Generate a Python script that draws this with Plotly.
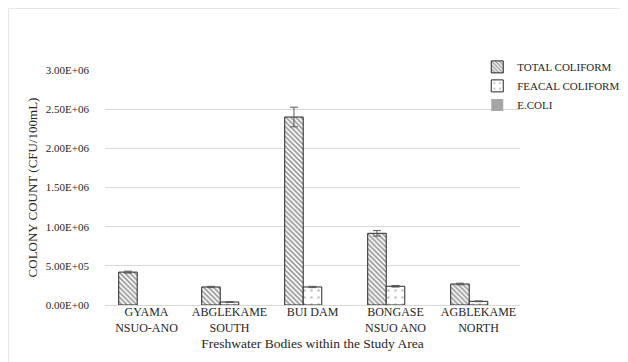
import plotly.graph_objects as go

categories = ["GYAMA<br>NSUO-ANO", "ABGLEKAME<br>SOUTH", "BUI DAM", "BONGASE<br>NSUO ANO", "AGBLEKAME<br>NORTH"]
total_coliform = [420000, 230000, 2400000, 915000, 268000]
total_err = [12000, 8000, 125000, 35000, 10000]
feacal_coliform = [None, 38000, 230000, 239000, 47000]
feacal_err = [None, 5000, 8000, 10000, 5000]
ecoli = [None, None, None, None, None]
y_ticks = [0, 500000, 1000000, 1500000, 2000000, 2500000, 3000000]
y_ticklabels = ["0.00E+00", "5.00E+05", "1.00E+06", "1.50E+06", "2.00E+06", "2.50E+06", "3.00E+06"]

W, H = 628, 362
ML, MR, MT, MB = 97, 116, 62, 65
FONT = "Liberation Serif, Times New Roman, DejaVu Serif, serif"
TXT = "#262626"

fig = go.Figure()
fig.add_trace(go.Bar(
    name="TOTAL COLIFORM", x=categories, y=total_coliform,
    marker=dict(color="white", line=dict(color="#262626", width=1),
                pattern=dict(shape="\\", fgcolor="#333333", bgcolor="white", size=3.5, solidity=0.5)),
    error_y=dict(type="data", array=total_err, color="#595959", thickness=1, width=4),
))
fig.add_trace(go.Bar(
    name="FEACAL COLIFORM", x=categories, y=feacal_coliform,
    marker=dict(color="white", line=dict(color="#262626", width=1),
                pattern=dict(shape=".", fgcolor="#8c8c8c", bgcolor="white", size=7, solidity=0.12)),
    error_y=dict(type="data", array=feacal_err, color="#595959", thickness=1, width=4),
))
fig.add_trace(go.Bar(
    name="E.COLI", x=categories, y=ecoli,
    marker=dict(color="#a6a6a6", line=dict(color="#a6a6a6", width=0)),
))

pw = W - ML - MR
ph = H - MT - MB
fig.add_shape(type="rect", xref="paper", yref="paper",
              x0=(0.5 - ML) / pw, x1=(W - 0.5 - ML) / pw,
              y0=-(H - 0.5 - MT - ph) / ph, y1=(ph + MT - 0.5) / ph,
              line=dict(color="#e6e6e6", width=1), fillcolor="rgba(0,0,0,0)", layer="below")

fig.update_layout(
    width=W, height=H,
    margin=dict(l=ML, r=MR, t=MT, b=MB, pad=0, autoexpand=False),
    paper_bgcolor="white", plot_bgcolor="white",
    barmode="group", bargap=0.33, bargroupgap=0,
    font=dict(family=FONT, size=11, color=TXT),
    showlegend=True,
    legend=dict(x=0.897, y=1.075, xanchor="left", yanchor="top",
                font=dict(family=FONT, size=11, color=TXT),
                itemwidth=30, tracegroupgap=0, bgcolor="rgba(0,0,0,0)"),
    xaxis=dict(title=dict(text="Freshwater Bodies within the Study Area", font=dict(family=FONT, size=13.5), standoff=4),
               tickfont=dict(family=FONT, size=12), showline=False, showgrid=False, ticks="",
               ticklabelstandoff=-2, automargin=False),
    yaxis=dict(range=[0, 3000000], tickvals=y_ticks, ticktext=y_ticklabels,
               tickfont=dict(family=FONT, size=11), showgrid=True, gridcolor="#d9d9d9", gridwidth=1,
               zeroline=True, zerolinecolor="#d9d9d9", zerolinewidth=1,
               ticks="", ticklabelstandoff=15, automargin=False,
               title=dict(text="COLONY COUNT (CFU/100mL)", font=dict(family=FONT, size=13), standoff=5)),
)

fig.write_html("out.html")
